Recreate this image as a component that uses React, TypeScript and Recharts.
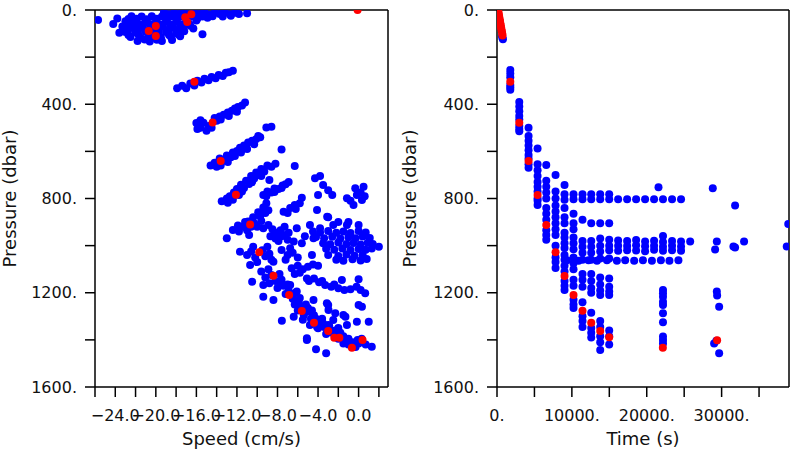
import React from 'react';
import { ScatterChart, Scatter, XAxis, YAxis } from 'recharts';

// ---- left panel: [speed (cm/s), pressure (dbar)] ----
const speedPressureBlue: [number, number][] = [
  // near-surface cloud
  [-25.7, 42], [-24.2, 59], [-23.8, 36], [-23.6, 97],
  [-19.2, 10], [-18.2, 12], [-17.2, 10], [-16.2, 12], [-15.2, 10], [-14.2, 12], [-13.2, 10], [-12.2, 12], [-11.0, 14],
  [-18.7, 18], [-17.7, 17], [-16.7, 19], [-15.7, 17], [-14.7, 19], [-13.7, 17], [-12.7, 18], [-11.8, 17],
  [-22.4, 26], [-21.4, 28], [-20.4, 26], [-19.4, 28], [-18.4, 26], [-17.4, 28], [-16.4, 26], [-15.4, 28], [-14.4, 26], [-13.4, 28], [-12.6, 24],
  [-22.7, 38], [-21.9, 37], [-20.9, 39], [-19.9, 37], [-18.9, 39], [-17.9, 37], [-16.9, 39], [-15.9, 36], [-14.9, 33],
  [-23.0, 48], [-22.0, 50], [-21.0, 47], [-20.0, 51], [-19.0, 48], [-18.0, 50], [-17.0, 47], [-16.0, 45],
  [-22.6, 60], [-21.6, 61], [-20.6, 59], [-19.6, 62], [-18.6, 60], [-17.6, 61], [-16.7, 58],
  [-23.3, 70], [-22.3, 73], [-21.3, 69], [-20.3, 72], [-19.3, 70], [-18.3, 73], [-17.3, 69], [-16.6, 67],
  [-22.7, 83], [-21.7, 82], [-20.7, 84], [-19.7, 82], [-18.7, 84], [-17.7, 82],
  [-23.0, 93], [-22.0, 96], [-21.0, 92], [-20.0, 95], [-19.0, 93], [-18.0, 96], [-17.2, 90],
  [-22.7, 106], [-21.7, 105], [-20.7, 107], [-19.7, 105], [-18.7, 106], [-17.8, 103],
  [-22.5, 115], [-21.5, 118], [-20.5, 114], [-19.5, 117], [-18.5, 115], [-17.6, 111],
  [-21.8, 132], [-20.6, 134], [-19.4, 132], [-18.4, 127], [-21.1, 125], [-19.9, 126],
  [-16.3, 78], [-15.4, 103],
  // ~300 dbar
  [-17.9, 332], [-17.4, 322], [-17.0, 332], [-16.6, 312], [-16.2, 320], [-15.9, 300], [-15.5, 308], [-15.2, 292],
  [-14.8, 298], [-14.5, 284], [-14.1, 290], [-13.8, 276], [-13.4, 280], [-13.1, 266], [-12.8, 264], [-12.4, 258],
  // ~450 dbar
  [-16.0, 480], [-15.6, 500], [-15.6, 468], [-15.3, 478], [-15.0, 512], [-14.8, 492], [-14.0, 470], [-14.2, 458],
  [-13.7, 452], [-13.3, 445], [-12.9, 435], [-12.5, 428], [-12.2, 418], [-11.9, 412], [-11.5, 405], [-11.2, 393],
  [-15.9, 505], [-14.5, 500], [-13.6, 465], [-12.8, 450], [-12.0, 432],
  [-9.1, 499], [-8.6, 495],
  // ~600 dbar
  [-14.6, 660], [-14.2, 648], [-14.0, 665], [-13.7, 630], [-13.2, 640], [-13.0, 618], [-12.6, 625], [-12.4, 605],
  [-12.0, 598], [-11.7, 585], [-11.3, 575], [-11.0, 590], [-10.9, 562], [-10.5, 555], [-10.1, 548], [-10.3, 570],
  [-9.7, 540], [-9.9, 535], [-13.6, 660], [-12.9, 645], [-12.2, 620], [-11.6, 605],
  [-7.6, 592], [-6.3, 662],
  // ~750 dbar
  [-13.5, 812], [-13.0, 800], [-12.7, 790], [-12.4, 805], [-12.3, 775], [-12.0, 760], [-11.8, 785], [-11.6, 742],
  [-11.3, 755], [-11.1, 725], [-10.8, 738], [-10.6, 705], [-10.3, 715], [-10.1, 690], [-9.8, 700], [-9.6, 675],
  [-9.3, 685], [-9.0, 660], [-8.6, 665], [-8.2, 652], [-12.9, 818], [-11.5, 770], [-10.5, 730], [-9.6, 705],
  [-9.4, 785], [-9.0, 770], [-8.6, 775], [-8.3, 758], [-7.9, 760], [-7.5, 745], [-7.2, 740], [-6.9, 730], [-8.8, 721],
  [-9.1, 790], [-8.3, 772], [-7.6, 755],
  // ~900 dbar
  [-13.0, 969], [-12.4, 934], [-11.8, 940], [-11.4, 920], [-11.0, 935], [-10.9, 898], [-10.4, 880], [-10.3, 905],
  [-9.9, 858], [-9.7, 875], [-9.4, 838], [-9.1, 820], [-8.9, 850], [-11.9, 915], [-10.8, 955], [-10.0, 920],
  [-11.2, 900], [-10.6, 920], [-9.6, 895], [-9.2, 862],
  [-9.4, 926], [-8.9, 912], [-8.5, 930], [-8.1, 945], [-7.7, 935], [-7.3, 920], [-8.7, 960], [-8.2, 970],
  [-7.6, 960], [-7.4, 955], [-7.6, 1019], [-6.75, 1011], [-7.9, 980], [-7.0, 975], [-6.9, 945],
  [-7.4, 856], [-6.75, 840], [-6.3, 828], [-5.8, 820], [-5.6, 797], [-7.0, 862], [-6.2, 845],
  [-4.3, 714], [-3.8, 704], [-3.5, 743], [-3.0, 765], [-2.6, 785], [-4.0, 785], [-4.1, 849], [-3.1, 877],
  [-1.15, 799], [-0.33, 757], [0.49, 750], [0.33, 806], [-0.5, 828], [-0.17, 785], [0.2, 775], [-0.8, 810], [0.6, 790],
  [-6.1, 926], [-4.8, 912], [-3.8, 926], [-2.5, 912], [-1.15, 912], [0.0, 912], [-2.0, 900], [-1.0, 900], [-3.0, 880],
  // ~1000 dbar cloud
  [-6.4, 983], [-4.45, 969], [-5.3, 960], [-5.6, 990],
  [-4.5, 940], [-3.8, 944], [-3.0, 938], [-2.2, 945], [-1.5, 940], [-0.8, 946], [0.0, 938], [0.7, 944],
  [-4.2, 963], [-3.4, 969], [-2.6, 962], [-1.8, 970], [-1.0, 964], [-0.3, 969], [0.4, 961], [1.1, 968],
  [-3.5, 990], [-2.8, 994], [-2.0, 987], [-1.2, 993], [-0.5, 989], [0.2, 995], [0.9, 988], [1.4, 993],
  [-3.2, 1013], [-2.4, 1018], [-1.6, 1012], [-0.8, 1019], [0.0, 1014], [0.7, 1018], [1.3, 1012], [2.0, 1005],
  [-3.0, 1040], [-2.0, 1044], [-1.2, 1038], [-0.4, 1043], [0.4, 1040],
  [-2.2, 1060], [-1.5, 1064], [-0.6, 1058], [0.2, 1063], [0.8, 1057],
  [-11.7, 1026], [-11.0, 1040], [-10.6, 1025], [-10.2, 1050], [-10.7, 1082], [-9.5, 1020], [-9.2, 1045],
  [-8.8, 1035], [-8.6, 1060], [-10.0, 1070], [-8.4, 1068], [-10.4, 1005], [-9.0, 1005],
  [-7.0, 1040], [-6.5, 1030], [-6.0, 1050], [-7.2, 1060], [-4.6, 1040],
  [-6.6, 1096], [-6.0, 1085], [-5.5, 1100], [-5.0, 1090], [-4.5, 1080], [-4.0, 1085], [-5.8, 1115], [-6.3, 1120],
  // ~1170 dbar streak
  [-5.1, 1139], [-4.9, 1150], [-4.4, 1139], [-3.9, 1155], [-3.3, 1167], [-2.7, 1175], [-2.0, 1181], [-1.4, 1188],
  [-0.8, 1185], [-0.2, 1175], [0.2, 1188], [0.65, 1202], [-1.65, 1146], [0.0, 1143], [-3.6, 1150], [-2.4, 1165],
  // deep diagonal
  [-9.6, 1110], [-9.2, 1135], [-8.9, 1100], [-8.8, 1160], [-8.2, 1150], [-8.0, 1180], [-7.8, 1120], [-7.4, 1170],
  [-7.2, 1205], [-6.9, 1190], [-6.5, 1225], [-6.3, 1250], [-6.2, 1200], [-5.9, 1240], [-5.6, 1260], [-5.4, 1295],
  [-5.2, 1250], [-4.9, 1280], [-4.7, 1310], [-4.4, 1295], [-4.1, 1345], [-3.9, 1320], [-3.6, 1310], [-3.4, 1345],
  [-3.2, 1375], [-2.9, 1340], [-2.6, 1370], [-2.3, 1360], [-2.0, 1395], [-1.8, 1370], [-1.5, 1385], [-1.2, 1410],
  [-1.0, 1395], [-0.6, 1410], [-0.3, 1430], [0.0, 1415], [0.3, 1395], [0.7, 1420], [-1.5, 1415],
  [-8.6, 1125], [-7.6, 1145], [-7.0, 1165], [-6.6, 1205], [-5.8, 1222], [-5.0, 1265], [-4.6, 1275], [-4.2, 1310],
  [-3.5, 1330], [-2.8, 1358], [-2.2, 1380], [-1.0, 1420], [-0.1, 1400], [-6.0, 1275], [-5.5, 1315], [-2.0, 1350],
  [-3.13, 1245], [-2.97, 1273], [-2.3, 1287], [-1.3, 1302], [-0.17, 1323], [-1.5, 1294], [0.0, 1252], [0.33, 1259], [1.0, 1323],
  [-10.5, 1153], [-9.4, 1217], [-8.4, 1231], [-7.57, 1319], [-5.1, 1393], [-4.2, 1440], [-3.2, 1457], [1.3, 1429],
  [-6.1, 1195], [-4.45, 1231], [-3.0, 1252], [-6.4, 1302], [-4.8, 1337], [-4.0, 1351], [-3.0, 1337], [-2.5, 1316],
  [-1.15, 1337], [-5.1, 1400], [-9.4, 1167], [-7.7, 1160], [-6.75, 1167],
];

const speedPressureRed: [number, number][] = [
  [-20.7, 89], [-20.0, 68], [-20.0, 110], [-17.1, 31], [-16.9, 51], [-16.5, 18], [-0.1, 0],
  [-16.2, 304], [-14.4, 477], [-13.6, 641], [-12.1, 784], [-10.7, 910], [-9.8, 1028], [-8.4, 1128],
  [-6.85, 1210], [-5.6, 1277], [-4.4, 1327], [-3.0, 1362], [-2.4, 1391], [-1.9, 1391], [-0.66, 1433], [0.39, 1400],
];

// ---- right panel: profiles sampled at fixed times (s) ----
const profileTimes = [
  1775, 2975, 4215, 5420, 6580, 7820, 9020, 10220, 11420, 12585, 13785, 14985,
  16180, 17380, 18580, 19780, 20980, 22170, 23380, 24580,
];
const profilePressures: number[][] = [
  [255, 270, 285, 318, 328, 338],
  [390, 410, 430, 450, 465, 492, 505, 515],
  [500, 535, 555, 575, 595, 615, 630, 655, 670],
  [588, 655, 680, 705, 730, 750, 770, 800, 810, 828],
  [658, 725, 750, 775, 800, 840, 865, 890, 935, 955, 975],
  [700, 770, 800, 830, 855, 880, 905, 930, 955, 1000, 1050, 1070, 1095],
  [743, 782, 805, 840, 880, 905, 945, 965, 990, 1010, 1040, 1060, 1085, 1110, 1150, 1170, 1188],
  [782, 803, 865, 905, 930, 965, 990, 1015, 1050, 1075, 1100, 1145, 1170, 1230, 1250, 1265],
  [782, 803, 890, 980, 1005, 1030, 1060, 1120, 1145, 1175, 1240, 1300, 1320, 1345],
  [782, 803, 905, 980, 1005, 1030, 1060, 1120, 1150, 1180, 1200, 1285, 1350, 1370, 1390],
  [782, 803, 905, 970, 1000, 1025, 1055, 1135, 1165, 1190, 1210, 1320, 1345, 1385, 1410, 1443],
  [782, 803, 905, 975, 1000, 1020, 1055, 1140, 1175, 1195, 1210, 1360, 1385, 1420],
  [803, 978, 1000, 1022],
  [803, 980, 1002, 1020],
  [803, 976, 998, 1021],
  [803, 982, 1003, 1024],
  [803, 979, 1000, 1018],
  [803, 959, 985, 1005, 1022, 1188, 1202, 1217, 1238, 1252, 1287, 1325, 1386, 1400, 1415],
  [803, 980, 1001, 1020],
  [803, 983, 1004, 1022],
];
const timePressureBlueExtra: [number, number][] = [
  [680, 110], [720, 118], [790, 124],
  [9340, 1062], [10890, 1064], [12220, 1062], [13350, 1064], [14680, 1062], [16010, 1064], [17120, 1062],
  [18320, 1064], [19490, 1062], [20690, 1064], [21890, 1062], [23030, 1064], [24230, 1062],
  [21570, 752], [28820, 757], [31800, 830], [38900, 908], [38700, 1004], [25800, 983],
  [29360, 983], [29130, 1016], [31580, 1004], [31800, 1008], [33000, 983],
  [29360, 1195], [29400, 1212], [29670, 1259], [29000, 1415], [29300, 1404], [29670, 1457],
];
const timePressureRed: [number, number][] = [
  [150, 4], [210, 12], [260, 21], [300, 30], [350, 39], [400, 47], [455, 57], [500, 66], [550, 74],
  [600, 84], [650, 91], [700, 101], [740, 108],
  [1775, 304], [2975, 478], [4215, 641], [5420, 785], [6580, 912], [7820, 1028], [9020, 1129],
  [10220, 1210], [11420, 1276], [12585, 1327], [13785, 1362], [14985, 1389], [22150, 1433], [29400, 1402],
];

const pressureTicks = [0, 200, 400, 600, 800, 1000, 1200, 1400, 1600];
const speedTicks = [-26, -24, -22, -20, -18, -16, -14, -12, -10, -8, -6, -4, -2, 0, 2];
const timeTicks = [0, 5000, 10000, 15000, 20000, 25000, 30000, 35000];

const toPts = (arr: [number, number][]) => arr.map(([x, y]) => ({ x, y }));

const fmtPressure = (v: number) => (v % 400 === 0 ? `${v}.` : '');
const fmtSpeed = (v: number) =>
  v % 4 === 0 ? (v < 0 ? '\u2212' + Math.abs(v).toFixed(1) : v.toFixed(1)) : '';
const fmtTime = (v: number) => (v % 10000 === 0 ? `${v}.` : '');

const dot = (color: string) => (props: any) =>
  <circle cx={props.cx} cy={props.cy} r={4} fill={color} />;

const axisLine = { stroke: '#000', strokeWidth: 1.5 };
const tickFont = { fontSize: 16, fill: '#111' };

interface PanelProps {
  left: number;
  blue: { x: number; y: number }[];
  red: { x: number; y: number }[];
  xDomain: [number, number];
  xTicks: number[];
  xFmt: (v: number) => string;
  xLabel: string;
  yWidth: number;
  rWidth: number;
}

const Panel: React.FC<PanelProps> = ({ left, blue, red, xDomain, xTicks, xFmt, xLabel, yWidth, rWidth }) => (
  <div style={{ position: 'absolute', left, top: 0 }}>
    <ScatterChart width={400} height={450} margin={{ top: 0, right: 0, bottom: 0, left: 0 }}>
      <XAxis
        xAxisId="b" type="number" dataKey="x" domain={xDomain} ticks={xTicks} interval={0}
        allowDataOverflow tickFormatter={xFmt} height={63} tickSize={10} tickMargin={13}
        axisLine={axisLine} tickLine={axisLine} tick={tickFont}
        label={{ value: xLabel, position: 'insideBottom', offset: 5, fontSize: 18, fill: '#111' }}
      />
      <XAxis
        xAxisId="t" orientation="top" type="number" domain={xDomain} ticks={xTicks} interval={0}
        allowDataOverflow height={10} tickSize={10} axisLine={axisLine} tickLine={axisLine} tick={false}
      />
      <YAxis
        yAxisId="l" type="number" dataKey="y" domain={[0, 1600]} reversed ticks={pressureTicks} interval={0}
        allowDataOverflow tickFormatter={fmtPressure} width={yWidth} tickSize={10} tickMargin={8}
        axisLine={axisLine} tickLine={axisLine} tick={tickFont}
        label={{
          value: 'Pressure (dbar)', angle: -90, position: 'insideLeft', offset: 10,
          fontSize: 18, fill: '#111', style: { textAnchor: 'middle' },
        }}
      />
      <YAxis
        yAxisId="r" orientation="right" type="number" domain={[0, 1600]} reversed ticks={pressureTicks}
        interval={0} allowDataOverflow width={rWidth} tickSize={10} axisLine={axisLine} tickLine={axisLine} tick={false}
      />
      <Scatter xAxisId="b" yAxisId="l" data={blue} shape={dot('#0000ff')} isAnimationActive={false} />
      <Scatter xAxisId="b" yAxisId="l" data={red} shape={dot('#ff0000')} isAnimationActive={false} />
    </ScatterChart>
  </div>
);

export default function App() {
  const rightBlue = [
    ...profileTimes.flatMap((t, i) => profilePressures[i].map((p) => ({ x: t, y: p }))),
    ...toPts(timePressureBlueExtra),
  ];
  return (
    <div style={{ position: 'absolute', left: 0, top: 0, width: 800, height: 450, background: '#fff', fontFamily: 'DejaVu Sans' }}>
      <Panel
        left={0} blue={toPts(speedPressureBlue)} red={toPts(speedPressureRed)}
        xDomain={[-26, 2.9]} xTicks={speedTicks} xFmt={fmtSpeed} xLabel="Speed (cm/s)" yWidth={95} rWidth={12}
      />
      <Panel
        left={400} blue={rightBlue} red={toPts(timePressureRed)}
        xDomain={[0, 39000]} xTicks={timeTicks} xFmt={fmtTime} xLabel="Time (s)" yWidth={97} rWidth={11}
      />
    </div>
  );
}
